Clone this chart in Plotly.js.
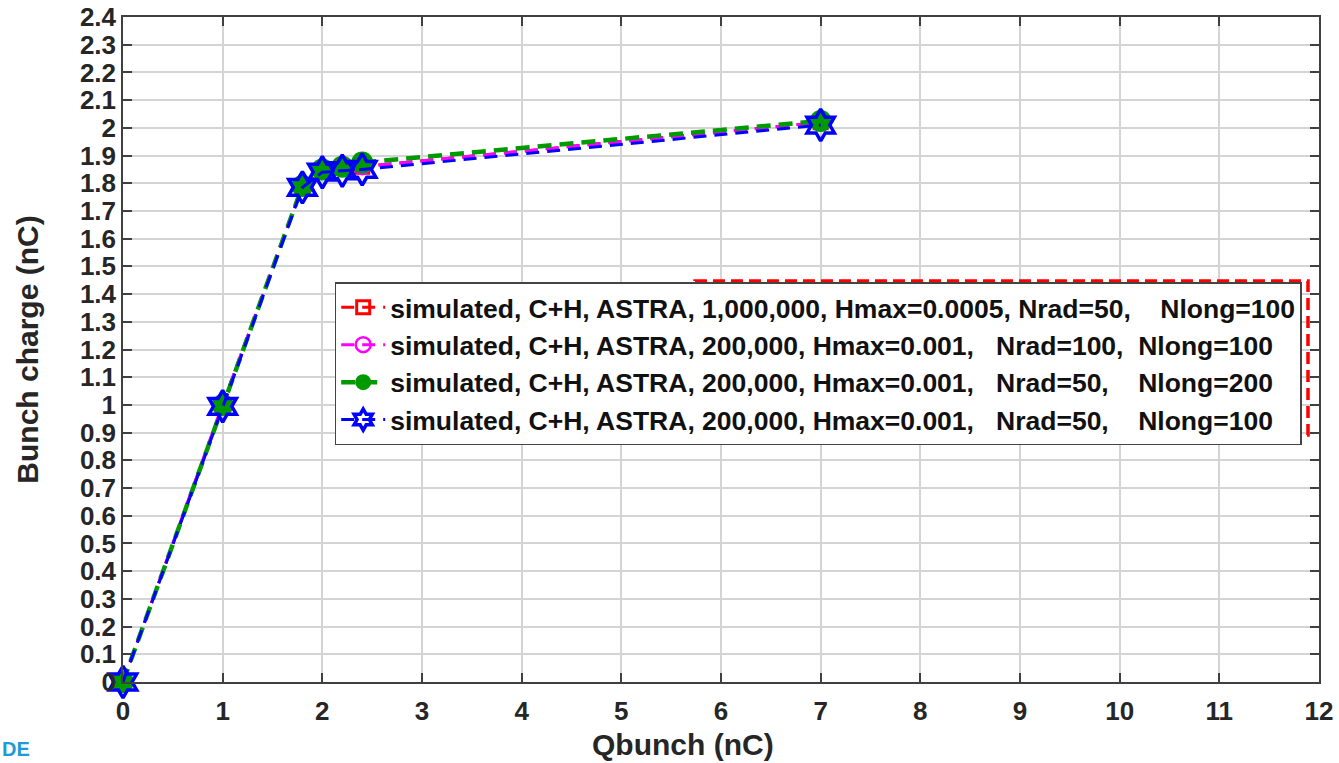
<!DOCTYPE html>
<html><head><meta charset="utf-8">
<script src="https://cdn.plot.ly/plotly-3.0.1.min.js"></script>
<style>html,body{margin:0;padding:0;background:#fff}</style>
</head><body><div id="chart" style="width:1339px;height:763px"></div>
<script>
const qbunch = [0, 1, 1.8, 2, 2.2, 2.4, 7];
const chargeRed = [0, 1, 1.79, 1.845, 1.855, 1.86, 2.02];
const chargeMagenta = [0, 1, 1.79, 1.845, 1.855, 1.86, 2.02];
const chargeGreen = [0, 1, 1.79, 1.85, 1.86, 1.875, 2.025];
const chargeBlue = [0, 0.995, 1.785, 1.84, 1.845, 1.85, 2.01];
const NB = '\u00a0';
const names = [
  'simulated, C+H, ASTRA, 1,000,000, Hmax=0.0005, Nrad=50,' + NB.repeat(4) + 'Nlong=100',
  'simulated, C+H, ASTRA, 200,000, Hmax=0.001,' + NB.repeat(3) + 'Nrad=100,' + NB.repeat(2) + 'Nlong=100',
  'simulated, C+H, ASTRA, 200,000, Hmax=0.001,' + NB.repeat(3) + 'Nrad=50,' + NB.repeat(4) + 'Nlong=200',
  'simulated, C+H, ASTRA, 200,000, Hmax=0.001,' + NB.repeat(3) + 'Nrad=50,' + NB.repeat(4) + 'Nlong=100'
];
const xTicks = [0,1,2,3,4,5,6,7,8,9,10,11,12];

const FONT = 'Liberation Sans, Arial, sans-serif';
const traces = [
  {x: qbunch, y: chargeRed, name: names[0], mode: 'lines+markers',
   line: {color: '#ff0000', width: 3, dash: '13px,8px'},
   marker: {symbol: 'square-open', size: 13, color: '#ff0000', line: {width: 3, color: '#ff0000'}}},
  {x: qbunch, y: chargeMagenta, name: names[1], mode: 'lines+markers',
   line: {color: '#ff00ff', width: 3, dash: '13px,8px'},
   marker: {symbol: 'circle-open', size: 15, color: '#ff00ff', line: {width: 2.5, color: '#ff00ff'}}},
  {x: qbunch, y: chargeGreen, name: names[2], mode: 'lines+markers',
   line: {color: '#009900', width: 4.5, dash: '14px,8px'},
   marker: {symbol: 'circle', size: 22, color: '#009900'}},
  {x: qbunch, y: chargeBlue, name: names[3], mode: 'lines+markers',
   line: {color: '#0000ff', width: 3, dash: '13px,8px'},
   marker: {symbol: 'hexagram-open', size: 24, color: '#0000ff', line: {width: 3.5, color: '#0000ff'}}}
];
traces.forEach(t => t.cliponaxis = false);

const axisCommon = {
  showgrid: true, gridcolor: '#d4d4d4', gridwidth: 1.5,
  showline: true, linecolor: '#404040', linewidth: 1.5, mirror: 'ticks',
  ticks: 'inside', ticklen: 9, tickwidth: 1.5, tickcolor: '#404040',
  zeroline: false,
  tickfont: {family: FONT, size: 26, color: '#262626', weight: 'bold'}
};

const layout = {
  width: 1339, height: 763,
  margin: {l: 123, r: 20, t: 17, b: 81},
  paper_bgcolor: '#ffffff', plot_bgcolor: '#ffffff',
  showlegend: true,
  xaxis: Object.assign({}, axisCommon, {
    range: [0, 12], tickvals: xTicks, ticktext: xTicks.map(String),
    ticklabelstandoff: 5
  }),
  yaxis: Object.assign({}, axisCommon, {
    range: [0, 2.4], dtick: 0.1, tick0: 0,
    title: {text: 'Bunch charge (nC)', font: {family: FONT, size: 30, color: '#262626', weight: 'bold'}, standoff: 32}
  }),
  legend: {
    x: 0.177, y: 0.6015, xanchor: 'left', yanchor: 'top',
    bgcolor: '#ffffff', bordercolor: '#444444', borderwidth: 1.5,
    font: {family: FONT, size: 26.5, color: '#111111', weight: 'bold'},
    itemwidth: 44
  },
  shapes: [{
    type: 'rect', xref: 'paper', yref: 'paper',
    x0: 0.4783, x1: 0.9908, y0: 0.3714, y1: 0.603,
    line: {color: '#ff0000', width: 3.5, dash: '12px,6px'}, layer: 'above'
  }],
  annotations: [
    {text: 'Qbunch (nC)', xref: 'paper', yref: 'paper', x: 0.468, y: -0.0947,
     xanchor: 'center', yanchor: 'middle', showarrow: false,
     font: {family: FONT, size: 30, color: '#262626', weight: 'bold'}},
    {text: 'DE', xref: 'paper', yref: 'paper', x: -0.103, y: -0.1203, xanchor: 'left', yanchor: 'bottom',
     showarrow: false, font: {family: FONT, size: 20, color: '#1e9bd7', weight: 'bold'}}
  ]
};

Plotly.newPlot('chart', traces, layout, {displayModeBar: false, responsive: false});
</script></body></html>
